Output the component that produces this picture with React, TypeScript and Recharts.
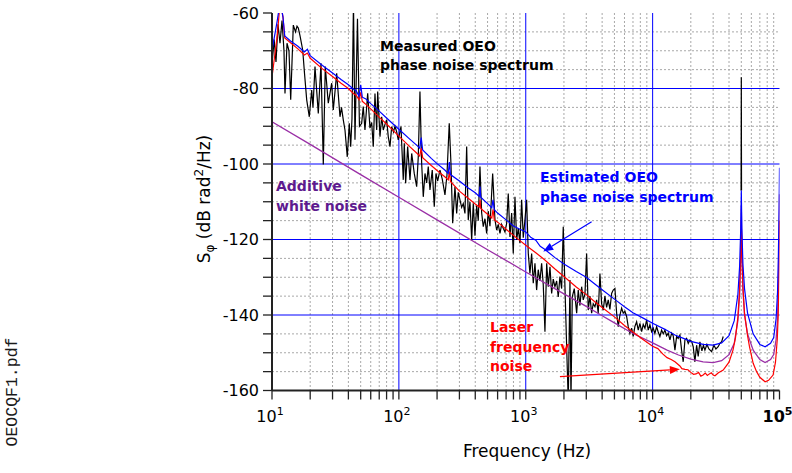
import React from 'react';
import { LineChart, Line, XAxis, YAxis, CartesianGrid, ReferenceLine } from 'recharts';

// Measured OEO phase noise spectrum (Hz, dB rad²/Hz); null splits the trace before the 50 kHz line
const measuredHz = [
  10.1, 10.4, 10.75, 11.15, 11.56, 11.99, 12.43, 12.66, 13.13, 13.61, 14.04, 14.72, 15.32, 15.74, 16.12, 16.62,
  17.46, 18.04, 18.77, 19.68, 20.55, 21.04, 21.82, 23.17, 24.33, 25.37, 26.3, 27.77, 29.54, 30.41, 32.35, 34.34,
  35.29, 36.46, 37.6, 39.2, 40.65, 41.7, 42.69, 43.87, 45.08, 47.17, 48.91, 50.9, 52.4, 54.04, 56.77, 59.19,
  61.05, 62.84, 64.81, 66.85, 68.07, 70.97, 73.19, 75.35, 77.71, 80.15, 82.51, 85.09, 87.76, 90.67, 93.18, 96.08,
  98.91, 103.9, 108.3, 110.3, 113.1, 117.3, 122.3, 126.2, 132.2, 138.1, 142.2, 146.6, 151.2, 155.7, 160.6, 165.6,
  170.5, 175.8, 183.3, 190.1, 196, 202.2, 210.8, 219.8, 230.8, 239.3, 249.5, 257.3, 265.4, 276.7, 285.4, 293.8,
  303, 312.5, 321.7, 331.8, 342.2, 352.3, 363.3, 374.8, 385.8, 397.9, 410.3, 422.4, 435.6, 449.3, 462.5, 477,
  491.9, 506.4, 522.3, 548.6, 572, 589.9, 607.3, 626.3, 645.9, 664.9, 685.8, 707.3, 728.1, 750.9, 774.4, 797.2,
  822.2, 847.9, 872.9, 900.2, 928.4, 955.7, 985.5, 1016, 1047, 1079, 1113, 1146, 1182, 1218, 1254, 1294,
  1334, 1374, 1417, 1462, 1505, 1552, 1600, 1647, 1698, 1752, 1803, 1860, 1918, 1975, 2037, 2101,
  2163, 2231, 2272, 2326, 2412, 2519, 2593, 2674, 2758, 2839, 2928, 3019, 3108, 3205, 3305, 3403,
  3510, 3620, 3726, 3843, 3963, 4080, 4207, 4339, 4467, 4607, 4752, 4891, 5045, 5204, 5357, 5525,
  5698, 5866, 6049, 6238, 6422, 6623, 6831, 7032, 7253, 7480, 7700, 7941, 8190, 8432, 8696, 8969,
  9233, 9521, 9818, 10110, 10420, 10750, 11070, 11410, 11770, 12120, 12500, 12890, 13270, 13690, 14120, 14530,
  14990, 15460, 15910, 16410, 16920, 17420, 17970, 18530, 19080, 19680, 20290, 20890, 21540, 22220, 22870, 23590,
  24460, 25130, 25830, 26780, 27770, 29160, 30400, 31530, 32870, 33900, 34970, 36000, 40000, 49800, 50000, 50200,
];
const measuredDb: (number | null)[] = [
  -72, -67, -73, -63, -68, -62, -70, -81.3, -68, -70, -83, -63.2, -65, -63.5, -64, -66,
  -69.8, -76, -83, -87.5, -80.4, -85, -74.2, -86.6, -73.3, -100.1, -74.2, -83.9, -78.6, -85.7, -76, -87.5,
  -85, -88.3, -91, -98.1, -89.2, -95.4, -88, -57, -93.6, -61.5, -90, -89.2, -84.8, -91, -81.3, -90.5,
  -89, -95.4, -81.3, -91, -80.8, -92.8, -87.5, -91, -89.5, -88.3, -92.8, -95.4, -90.1, -91.5, -90, -91.5,
  -93.6, -90.1, -104.2, -94.5, -105.1, -95.4, -104.2, -97.2, -102.5, -106, -98.1, -80.8, -99.8, -108.7, -102.5, -105,
  -100.7, -106.9, -101.6, -111.3, -102.5, -104.5, -101.6, -104, -108.2, -103, -89.2, -99.8, -115.7, -106, -113.1, -107.5,
  -109.5, -111.5, -110.5, -113.1, -95.4, -114.8, -110, -120.1, -110.4, -119, -111, -115, -100.7, -113, -116.6, -114.5,
  -118.4, -112.5, -116.5, -102.5, -114.8, -117.5, -116, -118.4, -116, -117, -118, -115.7, -107.8, -119.3, -113, -123.7,
  -108.7, -120.1, -117, -121, -109.5, -119.5, -114.8, -109.5, -123.7, -129, -123.7, -131.6, -126.3, -133.4, -128, -131,
  -126.3, -132, -144.4, -126.3, -132.5, -127.2, -134.3, -130.5, -132.5, -131, -135.2, -129.8, -133, -116.6, -132.5, -148.4,
  -163, -130.7, -163, -135.2, -133, -139.5, -133.4, -137.5, -132.5, -136, -134.5, -123.7, -138.7, -135, -139.5, -137,
  -137.8, -136, -139.5, -129, -137, -138.7, -135, -138, -136, -138.5, -134.3, -133.4, -133, -139.5, -143.1, -140,
  -138.2, -139.5, -139, -140.4, -143.1, -144.9, -143.5, -145.7, -143, -141.8, -144, -142.2, -144.4, -142.5, -143.5, -141.3,
  -144, -142.6, -144.4, -143.5, -144.9, -143.1, -144.5, -145.7, -144, -145, -144, -145.5, -144.8, -146.6, -144.8, -145.5,
  -149.3, -145.7, -146.2, -145.3, -149.3, -152.4, -146.6, -146.2, -147.5, -146.6, -147, -148.4, -152.4, -148, -151, -147.1,
  -149.5, -148, -149.3, -147.8, -149, -149.7, -148, -149, -148.4, -147.5, -147.1, -145.7, null, -107, -77, -107,
];

// Estimated OEO phase noise spectrum
const estimatedHz = [
  10, 11, 11.6, 12.2, 12.6, 14, 16, 18, 19, 20, 25, 30, 35, 40, 44, 46, 48.5, 50, 51.5, 55, 60, 70, 80, 90,
  100, 120, 140, 146, 150, 154, 180, 200, 230, 245, 250, 255, 300, 350, 400, 430, 436, 442, 500, 540, 552, 565,
  600, 700, 800, 900, 1000, 1100, 1200, 1300, 1400, 1700, 2000, 2500, 3000, 3500, 4000, 5000, 6000, 7000, 8500, 10000,
  12500, 15000, 17500, 20000, 25000, 30000, 35000, 40000, 44000, 47000, 48500, 49500, 50000, 50500, 51500, 53000,
  56000, 62000, 70000, 77000, 85000, 90000, 94000, 96500, 98000, 99300, 100000,
];
const estimatedDb = [
  -70, -62, -57, -61, -66.1, -67.4, -68.8, -70.3, -69.6, -71.3, -73.9, -75.9, -77.6, -79, -80.2, -80.6, -82, -79, -82.3, -82.8, -84, -86, -87.8, -89.4,
  -90.8, -93.2, -95.2, -95.8, -93, -96.3, -98.5, -99.9, -101.6, -102.5, -99.5, -102.8, -104.5, -106.3, -107.6, -108.6, -106, -108.8, -110.5, -111.6, -109.5, -112.1,
  -113, -114.8, -116.4, -117.3, -118, -119.5, -120.2, -121.8, -122.5, -124.8, -126.5, -128.5, -130, -131.8, -133.3, -135.8, -137.8, -139.4, -140.9, -142.2,
  -143.8, -145.3, -146.2, -147, -147.8, -148, -147.4, -145.5, -141.5, -134.5, -127, -117, -107, -117, -126.5, -133,
  -139.5, -145, -147.8, -148.4, -147.5, -146, -141, -134, -124, -112, -101,
];

// Laser frequency noise contribution
const laserHz = [
  10, 11, 11.6, 12.2, 12.6, 14, 16, 18, 19, 20, 25, 30, 35, 40, 44, 46, 48.5, 50, 51.5, 55, 60, 70, 80, 90,
  100, 120, 140, 146, 150, 154, 180, 200, 230, 245, 250, 255, 300, 350, 400, 430, 436, 442, 500, 540, 552, 565,
  600, 700, 800, 900, 1000, 1200, 1400, 1700, 2000, 2500, 3000, 3500, 4000, 5000, 6000, 7000, 8500, 10000, 11000, 12000,
  13000, 14000, 15000, 16400, 17000, 18000, 19000, 20000, 21000, 22000, 23000, 24000, 25000, 26000, 27000, 28000, 29000, 30000,
  31000, 33000, 36000, 40000, 43000, 45000, 47000, 48500, 49500, 50000, 50500, 51500, 53000, 56000, 58000, 62000,
  66000, 70000, 77000, 82000, 89000, 93000, 96000, 97700, 99000, 100000,
];
const laserDb = [
  -77, -66, -57, -61, -66.6, -67.9, -69.5, -71.1, -70.6, -72, -74.8, -76.8, -78.6, -80, -81.4, -81.8, -83, -81, -83.4, -84.2, -85.4, -87.6, -89.4, -91.1,
  -92.6, -95.2, -97.3, -97.9, -95.8, -98.3, -100.4, -101.7, -103.4, -104.2, -102, -104.6, -107.2, -109, -110.6, -111.4, -109.5, -111.8, -113.3, -114.3, -112, -114.8,
  -115.4, -117.3, -118.9, -120.3, -121.5, -123.5, -125.3, -127.8, -129.8, -132.6, -134.6, -136.5, -138, -140.5, -142.8, -144.5, -146.6, -148.3, -148.9, -150.3,
  -151.3, -151.8, -152.4, -153.5, -154.2, -154.4, -154.5, -155.2, -155.7, -155.6, -155.2, -156.2, -155.9, -155.4, -156, -155.6, -155.3, -155.9,
  -156.1, -155.3, -154.6, -152.5, -149.3, -146, -140.5, -133, -124, -115, -124, -132.5, -139.5, -145.5, -148.4, -152.8,
  -155, -156.5, -157.7, -157.3, -155.9, -152.5, -146.5, -140, -129, -115,
];

// Additive white noise contribution
const whiteHz = [
  10, 20, 50, 100, 200, 500, 1000, 2000, 3000, 4000, 5000, 7000, 10000, 13000, 16000, 20000, 25000, 30000, 35000, 40000,
  44000, 47000, 48500, 49500, 50000, 50500, 51500, 53000, 56000, 62000, 70000, 77000, 85000, 90000, 94000, 96500, 98000, 99300, 100000,
];
const whiteDb = [
  -88.8, -94.8, -102.8, -108.8, -114.8, -122.7, -128.6, -134.4, -137.7, -140.2, -142.1, -144.9, -147.4, -149.3, -150.6, -151.7, -152.4, -152.6, -152.1, -150.5,
  -147.5, -141.5, -134.5, -123, -111, -123, -133.5, -140, -145, -149.3, -151.8, -152.6, -151.8, -150.5, -146.5, -141, -132, -120, -108,
];

// Axis ticks and grid positions
const xTicks = [
  10, 20, 30, 40, 50, 60, 70, 80, 90, 100, 200, 300, 400, 500, 600, 700, 800, 900,
  1000, 2000, 3000, 4000, 5000, 6000, 7000, 8000, 9000, 10000, 20000, 30000, 40000, 50000, 60000, 70000, 80000, 90000, 100000,
];
const xMajor = [100, 1000, 10000];
const xMinor = [
  20, 30, 40, 50, 60, 70, 80, 90, 200, 300, 400, 500, 600, 700, 800, 900,
  2000, 3000, 4000, 5000, 6000, 7000, 8000, 9000, 20000, 30000, 40000, 50000, 60000, 70000, 80000, 90000,
];
const xDecadeLabels: Record<number, string> = { 10: '1', 100: '2', 1000: '3', 10000: '4', 100000: '5' };
const yTicks = [
  -160, -155, -150, -145, -140, -135, -130, -125, -120, -115, -110, -105, -100, -95, -90, -85, -80, -75, -70, -65, -60,
];
const yLabelled = [-160, -140, -120, -100, -80, -60];
const yMajor = [-140, -120, -100, -80];
const yMinor = [-155, -150, -145, -135, -130, -125, -115, -110, -105, -95, -90, -85, -75, -70, -65];

const toSeries = (hz: number[], db: (number | null)[]) => hz.map((f, i) => ({ f, v: db[i] }));

const measured = toSeries(measuredHz, measuredDb);
const estimated = toSeries(estimatedHz, estimatedDb);
const laser = toSeries(laserHz, laserDb);
const white = toSeries(whiteHz, whiteDb);

const FONT = "'DejaVu Sans', Verdana, sans-serif";
const BLUE = '#0000ff';
const RED = '#ff0000';
const PURPLE = '#9a2fa6';

const XTick = (props: any) => {
  const { x, y, payload } = props;
  const sup = xDecadeLabels[payload.value];
  if (!sup) return null;
  const last = payload.value === 100000;
  return (
    <text x={x - 2} y={y + 20} textAnchor="middle" fontFamily={FONT} fontSize={16} fill="#000"
      fontWeight={last ? 'bold' : 'normal'}>
      <tspan>10</tspan>
      <tspan dy={-7} fontSize={11}>{sup}</tspan>
    </text>
  );
};

const arrowShape = (color: string) => (p: any) => {
  const { x1, y1, x2, y2 } = p;
  const ang = Math.atan2(y2 - y1, x2 - x1);
  const len = 10;
  const half = 4;
  const bx = x2 - len * Math.cos(ang);
  const by = y2 - len * Math.sin(ang);
  const px = -Math.sin(ang) * half;
  const py = Math.cos(ang) * half;
  return (
    <g>
      <line x1={x1} y1={y1} x2={bx} y2={by} stroke={color} strokeWidth={1.2} />
      <polygon points={`${x2},${y2} ${bx + px},${by + py} ${bx - px},${by - py}`} fill={color} />
    </g>
  );
};

export default function App() {
  return (
    <div style={{ position: 'absolute', left: 0, top: 0, width: 792, height: 473, background: '#fff' }}>
      <LineChart width={792} height={473} margin={{ top: 13, right: 12.5, bottom: 0, left: 0 }}>
        <CartesianGrid stroke="#a8a8a8" strokeDasharray="2 2" strokeWidth={1}
          horizontalValues={yMinor} verticalValues={xMinor} />
        <CartesianGrid stroke={BLUE} strokeWidth={1} horizontalValues={yMajor} verticalValues={xMajor} />
        <XAxis dataKey="f" type="number" scale="log" domain={[10, 100000]} allowDataOverflow
          ticks={xTicks} interval={0} tickSize={9} height={82.5} tick={<XTick />}
          axisLine={{ stroke: '#222', strokeWidth: 2 }} tickLine={{ stroke: '#222', strokeWidth: 1.3 }} />
        <XAxis xAxisId="top" orientation="top" dataKey="f" type="number" scale="log" domain={[10, 100000]}
          allowDataOverflow height={0} tick={false} tickLine={false} axisLine={{ stroke: '#444', strokeWidth: 1.3 }} />
        <YAxis type="number" domain={[-160, -60]} allowDataOverflow ticks={yTicks} interval={0}
          tickSize={9} tickMargin={4} width={272}
          tickFormatter={(v: number) => (yLabelled.includes(v) ? String(v) : '')}
          tick={{ fontSize: 16, fontFamily: FONT, fill: '#000' }}
          axisLine={{ stroke: '#222', strokeWidth: 2 }} tickLine={{ stroke: '#222', strokeWidth: 1.3 }} />
        <YAxis yAxisId="right" orientation="right" type="number" domain={[-160, -60]} allowDataOverflow
          width={0} tick={false} tickLine={false} axisLine={{ stroke: '#444', strokeWidth: 1.3 }} />
        <Line data={measured} dataKey="v" stroke="#000" strokeWidth={1.2} dot={false} isAnimationActive={false} />
        <Line data={white} dataKey="v" stroke={PURPLE} strokeWidth={1.3} dot={false} isAnimationActive={false} />
        <Line data={laser} dataKey="v" stroke={RED} strokeWidth={1.2} dot={false} isAnimationActive={false} />
        <Line data={estimated} dataKey="v" stroke={BLUE} strokeWidth={1.2} dot={false} isAnimationActive={false} />
        <ReferenceLine segment={[{ x: 3305, y: -115.3 }, { x: 1374, y: -123.2 }]} ifOverflow="visible"
          shape={arrowShape(BLUE)} />
        <ReferenceLine segment={[{ x: 1859, y: -156.3 }, { x: 16400, y: -154.4 }]} ifOverflow="visible"
          shape={arrowShape(RED)} />
      </LineChart>
      <svg width={792} height={473} style={{ position: 'absolute', left: 0, top: 0, pointerEvents: 'none' }}>
        <g fontFamily={FONT} fontWeight="bold" fontSize={14}>
          <text x={380} y={50.5} fill="#000">Measured OEO</text>
          <text x={380} y={70} fill="#000">phase noise spectrum</text>
          <text x={540} y={182} fill={BLUE}>Estimated OEO</text>
          <text x={540} y={202} fill={BLUE}>phase noise spectrum</text>
          <text x={276} y={191} fill="#5e1a8e">Additive</text>
          <text x={276} y={210.5} fill="#5e1a8e">white noise</text>
          <text x={490} y={331.5} fill={RED}>Laser</text>
          <text x={490} y={351.5} fill={RED}>frequency</text>
          <text x={490} y={371} fill={RED}>noise</text>
        </g>
        <text x={527} y={457} textAnchor="middle" fontFamily={FONT} fontSize={17} fill="#000">Frequency (Hz)</text>
        <text transform="translate(210,199) rotate(-90)" textAnchor="middle" fontFamily={FONT} fontSize={17} fill="#000">
          <tspan>S</tspan>
          <tspan dy={4} fontSize={12}>φ</tspan>
          <tspan dy={-4}> (dB rad</tspan>
          <tspan dy={-7} fontSize={12}>2</tspan>
          <tspan dy={7}>/Hz)</tspan>
        </text>
        <text transform="translate(17,392) rotate(-90)" textAnchor="middle" fontFamily="'Liberation Mono', monospace"
          fontSize={16.5} fill="#1a1a1a">OEOCQF1.pdf</text>
      </svg>
    </div>
  );
}
